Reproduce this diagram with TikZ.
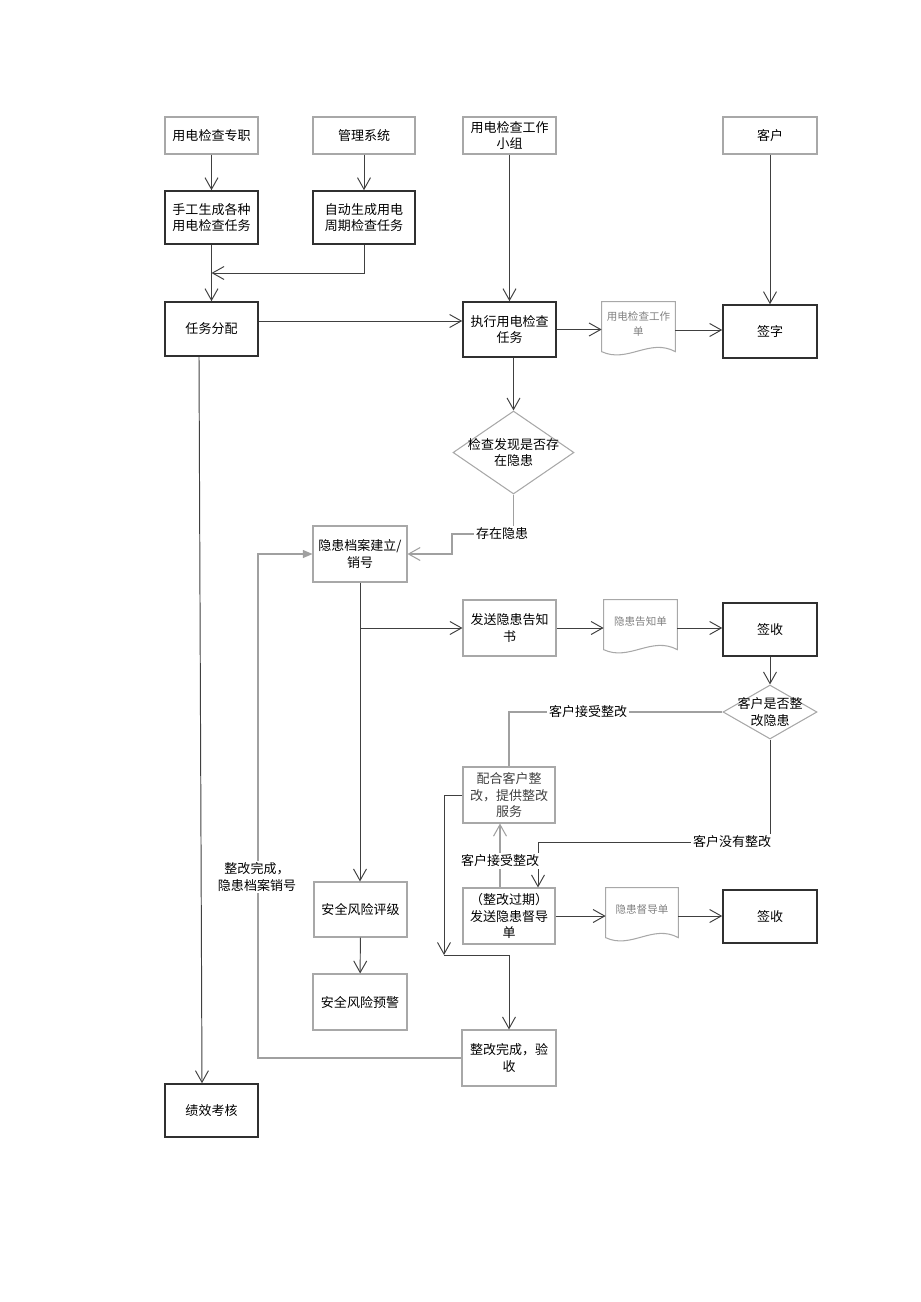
\documentclass[tikz,border=0pt]{standalone}
\usepackage{fontspec}
\newfontfamily\cjk{Noto Sans CJK SC}
\usetikzlibrary{arrows.meta,shapes.geometric,calc}
\def\pxu{0.02cm}
\definecolor{lgray}{HTML}{A8A8A8}
\definecolor{dgray}{HTML}{303030}
\definecolor{lineclr}{HTML}{404040}
\definecolor{lline}{HTML}{A0A0A0}
\definecolor{doctxt}{HTML}{808080}
\begin{document}
\begin{tikzpicture}[x=0.02cm,y=-0.02cm,
  font=\cjk\fontsize{7.4}{9.2}\selectfont,
  >={Straight Barb[length=6.6pt,width=7.4pt]},
  sz/.style 2 args={minimum width=#1*\pxu, minimum height=#2*\pxu},
  base/.style={rectangle, inner sep=0pt, align=center, text=black},
  lbox/.style={base, draw=lgray, line width=0.6pt},
  dbox/.style={base, draw=dgray, line width=0.9pt},
  dholder/.style={rectangle, inner sep=0pt},
  docline/.style={draw=lgray, line width=0.6pt},
  doctext/.style={base, text=doctxt, font=\cjk\fontsize{6}{8.5}\selectfont},
  dia/.style={diamond, draw=lgray, line width=0.6pt, inner sep=0pt},
  conn/.style={draw=lineclr, line width=0.55pt},
  lconn/.style={draw=lline, line width=0.6pt},
  lbl/.style={base, fill=white, inner sep=1pt},
  filled/.style={-{Triangle[length=5.5pt,width=4.6pt]}}
]
\useasboundingbox (0,0) rectangle (920,1302);

% top row
\node[lbox, sz={93}{37}] (zz) at (211.5,135.5) {用电检查专职};
\node[lbox, sz={102}{37}] (gl) at (364,135.5) {管理系统};
\node[lbox, sz={93}{37}] (xz) at (509.5,135.5) {用电检查工作\\小组};
\node[lbox, sz={94}{37}] (kh) at (770,135.5) {客户};

\node[dbox, sz={93}{53}] (sg) at (211.5,217.5) {手工生成各种\\用电检查任务};
\node[dbox, sz={102}{53}] (zd) at (364,217.5) {自动生成用电\\周期检查任务};

\node[dbox, sz={93}{54}] (rw) at (211.5,329) {任务分配};
\node[dbox, sz={93}{55}] (zx) at (509.5,329.5) {执行用电检查\\任务};
\node[dholder, sz={73}{56}] (doc1) at (638.5,330) {};
\node[dbox, sz={94}{53}] (qz) at (770,331.5) {签字};

\node[dia, sz={121}{83}] (d1) at (513.5,452.5) {};
\node[base] (d1t) at (d1) {检查发现是否存\\在隐患};

\node[lbox, sz={94}{56}] (yh) at (360,554) {隐患档案建立/\\销号};

\node[lbox, sz={93}{56}] (fs) at (509.5,628) {发送隐患告知\\书};
\node[dholder, sz={73}{56}] (doc2) at (640.5,628) {};
\node[dbox, sz={94}{53}] (qs1) at (770,629.5) {签收};

\node[dia, sz={94}{54}] (d2) at (770,712) {};
\node[base] (d2t) at (d2) {客户是否整\\改隐患};

\node[lbox, sz={92}{56}, text=lineclr] (ph) at (509,795) {配合客户整\\改，提供整改\\服务};

\node[lbox, sz={93}{55}] (aq1) at (360.5,909.5) {安全风险评级};
\node[lbox, sz={92}{56}] (gq) at (509,916) {（整改过期）\\发送隐患督导\\单};
\node[dholder, sz={72}{56}] (doc3) at (642,916) {};
\node[dbox, sz={94}{53}] (qs2) at (770,916.5) {签收};

\node[lbox, sz={94}{56}] (aq2) at (360,1002) {安全风险预警};
\node[lbox, sz={94}{56}] (wc) at (509,1058) {整改完成，验\\收};
\node[dbox, sz={93}{53}] (jx) at (211.5,1110.5) {绩效考核};

% document shapes
\foreach \d in {doc1,doc2,doc3}{
  \draw[docline] (\d.north west) -- (\d.north east) -- ($(\d.north east)+(0,50)$)
    .. controls ($(\d.north west)!0.65!(\d.north east)+(0,36)$) and ($(\d.north west)!0.35!(\d.north east)+(0,62)$)
    .. ($(\d.north west)+(0,50)$) -- cycle;
}
\node[doctext] (doc1t) at ($(doc1.north)+(0,22.5)$) {用电检查工作\\单};
\node[doctext] (doc2t) at ($(doc2.north)+(0,22)$) {隐患告知单};
\node[doctext] (doc3t) at ($(doc3.north)+(0,22)$) {隐患督导单};

% helper coordinates
\coordinate (m1) at (211.5,273);
\coordinate (y321) at (0,321);
\coordinate (c1) at (452,534);
\coordinate (c2) at (360,628);
\coordinate (c3) at (538,842);
\coordinate (c4) at (500,0);
\coordinate (c5) at (444,955);
\coordinate (c6) at (258,554);

% connectors
\draw[conn,->] (zz) -- (sg);
\draw[conn,->] (gl) -- (zd);
\draw[conn,->] (sg) -- (rw);
\draw[conn,->] (zd.south) |- (m1);
\draw[conn,->] (rw.east |- y321) -- (zx.west |- y321);
\draw[conn,->] (xz) -- (zx);
\draw[conn,->] (zx.east) -- (zx.east -| doc1.west);
\draw[conn,->] (doc1.east) -- (doc1.east -| qz.west);
\draw[conn,->] (kh) -- (qz);
\draw[conn,->] (zx.south -| d1.north) -- (d1.north);
\draw[lconn,->] (d1.south) |- (c1) |- (yh.east);
\draw[conn,->] (yh.south) -- (yh.south |- aq1.north);
\draw[conn,->] (c2) -- (c2 -| fs.west);
\draw[conn,->] (fs.east) -- (fs.east -| doc2.west);
\draw[conn,->] (doc2.east) -- (doc2.east -| qs1.west);
\draw[conn,->] (qs1.south -| d2.north) -- (d2.north);
\draw[lconn] (d2.west) -| (ph.north);
\draw[conn,->] (d2.south) |- (c3) -- (c3 |- gq.north);
\draw[lconn,->] (gq.north -| c4) -- (ph.south -| c4);
\draw[conn,->] (ph.west) -| (c5);
\draw[conn,->] (c5) -| (wc.north);
\draw[conn,->] (gq.east) -- (gq.east -| doc3.west);
\draw[conn,->] (doc3.east) -- (doc3.east -| qs2.west);
\draw[conn,->] (aq1) -- (aq2);
\draw[lconn,filled] (wc.west) -| (c6) -- (yh.west);
\draw[conn,->] ([xshift=-12.5*\pxu]rw.south) -- ([xshift=-9.5*\pxu]jx.north);

% labels
\node[lbl] (l1) at (502,534) {存在隐患};
\node[lbl] (l2) at (588,712) {客户接受整改};
\node[lbl] (l3) at (732,842) {客户没有整改};
\node[lbl] (l4) at (500,861) {客户接受整改};
\node[lbl] (l5) at (257,877) {整改完成，\\隐患档案销号};
\end{tikzpicture}
\end{document}
